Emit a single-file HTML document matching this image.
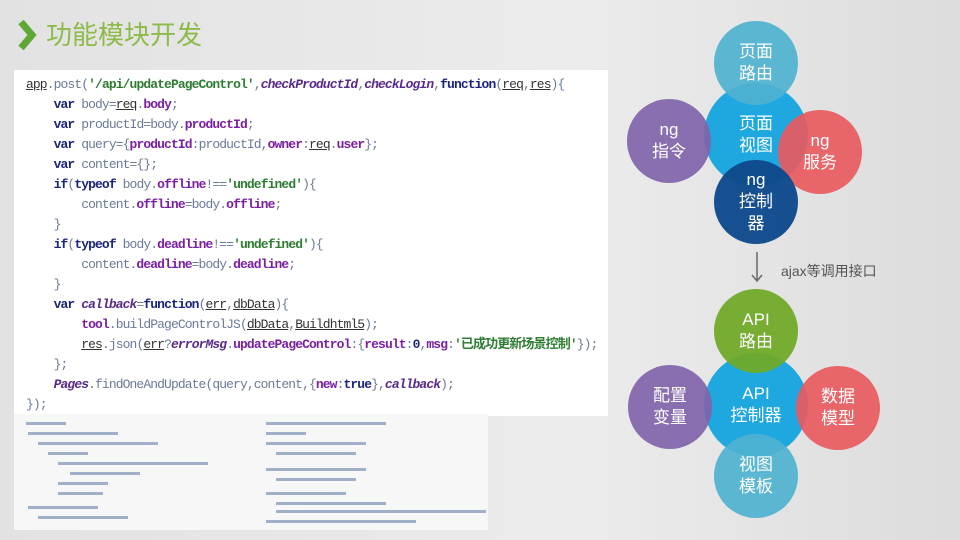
<!DOCTYPE html>
<html><head><meta charset="utf-8"><style>
body{margin:0;width:960px;height:540px;overflow:hidden;background:linear-gradient(90deg,#e2e2e2 0%,#ececec 60%,#dcdcdc 100%);font-family:"Liberation Sans","Noto Sans CJK SC",sans-serif;position:relative}
.title{position:absolute;left:46px;top:15px;font-size:26px;color:#8dbb4a}
.code{position:absolute;left:14px;top:70px;width:594px;height:346px;background:#fff;overflow:hidden}
pre{margin:0;position:absolute;left:12px;top:5px;font-family:"Liberation Mono","Noto Sans CJK SC",monospace;font-size:13px;line-height:20px;letter-spacing:-0.9px;color:#6a7a9a}
.k{color:#1a237e;font-weight:bold}.p{color:#7b1fa2;font-weight:bold}.s{color:#2e7d32;font-weight:bold}.i{font-style:italic;color:#5a2a8a;font-weight:bold}.u{text-decoration:underline;color:#333}
.c2{position:absolute;left:14px;top:414px;width:474px;height:116px;background:#f7f7f7}
.c2 div{position:absolute;height:3px;background:#9fb0c8}
.circ{position:absolute;border-radius:50%;color:#fff;display:flex;align-items:center;justify-content:center;text-align:center;font-size:17px;line-height:22px}
</style></head><body>
<svg style="position:absolute;left:16px;top:18px" width="22" height="34"><polyline points="5,4 16,17 5,30" fill="none" stroke="#5fa836" stroke-width="7"/></svg>
<div class="title">功能模块开发</div>
<div class="code"><pre><span class="u">app</span>.post(<span class="s">'/api/updatePageControl'</span>,<span class="i">checkProductId</span>,<span class="i">checkLogin</span>,<span class="k">function</span>(<span class="u">req</span>,<span class="u">res</span>){
    <span class="k">var</span> body=<span class="u">req</span>.<span class="p">body</span>;
    <span class="k">var</span> productId=body.<span class="p">productId</span>;
    <span class="k">var</span> query={<span class="p">productId</span>:productId,<span class="p">owner</span>:<span class="u">req</span>.<span class="p">user</span>};
    <span class="k">var</span> content={};
    <span class="k">if</span>(<span class="k">typeof</span> body.<span class="p">offline</span>!==<span class="s">'undefined'</span>){
        content.<span class="p">offline</span>=body.<span class="p">offline</span>;
    }
    <span class="k">if</span>(<span class="k">typeof</span> body.<span class="p">deadline</span>!==<span class="s">'undefined'</span>){
        content.<span class="p">deadline</span>=body.<span class="p">deadline</span>;
    }
    <span class="k">var</span> <span class="i">callback</span>=<span class="k">function</span>(<span class="u">err</span>,<span class="u">dbData</span>){
        <span class="p">tool</span>.buildPageControlJS(<span class="u">dbData</span>,<span class="u">Buildhtml5</span>);
        <span class="u">res</span>.json(<span class="u">err</span>?<span class="i">errorMsg</span>.<span class="p">updatePageControl</span>:{<span class="p">result</span>:<span class="k">0</span>,<span class="p">msg</span>:<span class="s">'已成功更新场景控制'</span>});
    };
    <span class="i">Pages</span>.findOneAndUpdate(query,content,{<span class="p">new</span>:<span class="k">true</span>},<span class="i">callback</span>);
});</pre></div>
<div class="c2">
<div style="left:12px;top:8px;width:40px"></div><div style="left:14px;top:18px;width:90px"></div><div style="left:24px;top:28px;width:120px"></div><div style="left:34px;top:38px;width:40px"></div><div style="left:44px;top:48px;width:150px"></div><div style="left:56px;top:58px;width:70px"></div><div style="left:44px;top:68px;width:50px"></div><div style="left:44px;top:78px;width:45px"></div><div style="left:14px;top:92px;width:70px"></div><div style="left:24px;top:102px;width:90px"></div>
<div style="left:252px;top:8px;width:120px"></div><div style="left:252px;top:18px;width:40px"></div><div style="left:252px;top:28px;width:100px"></div><div style="left:262px;top:38px;width:80px"></div><div style="left:252px;top:54px;width:100px"></div><div style="left:262px;top:64px;width:80px"></div><div style="left:252px;top:78px;width:80px"></div><div style="left:262px;top:88px;width:110px"></div><div style="left:262px;top:96px;width:210px"></div><div style="left:252px;top:106px;width:150px"></div>
</div>
<div class="circ" style="left:704px;top:83px;width:104px;height:104px;background:#1fa8e0"></div>
<div class="circ" style="left:714px;top:21px;width:84px;height:84px;background:rgba(79,178,208,.92)">页面<br>路由</div>
<div class="circ" style="left:704px;top:83px;width:104px;height:104px;color:#fff">页面<br>视图</div>
<div class="circ" style="left:627px;top:99px;width:84px;height:84px;background:rgba(128,100,170,.92)">ng<br>指令</div>
<div class="circ" style="left:778px;top:110px;width:84px;height:84px;background:rgba(232,90,95,.92)">ng<br>服务</div>
<div class="circ" style="left:714px;top:160px;width:84px;height:84px;background:rgba(14,74,140,.97)">ng<br>控制<br>器</div>
<svg style="position:absolute;left:750px;top:252px" width="14" height="32"><line x1="7" y1="0" x2="7" y2="29" stroke="#666" stroke-width="1.5"/><polyline points="2,23 7,29 12,23" fill="none" stroke="#666" stroke-width="1.5"/></svg>
<div style="position:absolute;left:781px;top:261px;font-size:14px;color:#555">ajax等调用接口</div>
<div class="circ" style="left:704px;top:353px;width:104px;height:104px;background:#1fa8e0"></div>
<div class="circ" style="left:714px;top:289px;width:84px;height:84px;background:rgba(112,170,40,.95)">API<br>路由</div>
<div class="circ" style="left:714px;top:434px;width:84px;height:84px;background:rgba(79,178,208,.92)">视图<br>模板</div>
<div class="circ" style="left:628px;top:365px;width:84px;height:84px;background:rgba(128,100,170,.92)">配置<br>变量</div>
<div class="circ" style="left:796px;top:366px;width:84px;height:84px;background:rgba(232,90,95,.92)">数据<br>模型</div>
<div class="circ" style="left:704px;top:353px;width:104px;height:104px">API<br>控制器</div>
</body></html>
